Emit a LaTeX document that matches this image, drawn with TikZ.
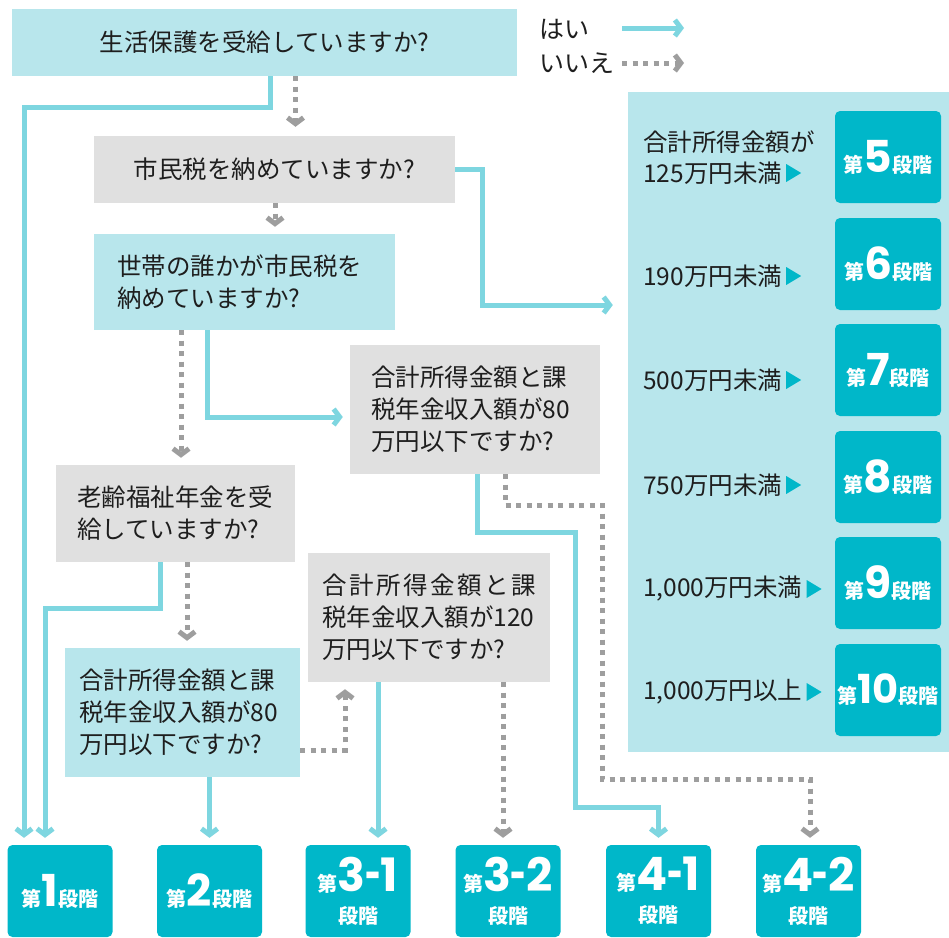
\documentclass[tikz,border=0pt]{standalone}
\usepackage{fontspec}
\setmainfont{Noto Sans CJK JP}
\newfontfamily\numfont{Poppins}
\usetikzlibrary{arrows.meta}
\definecolor{boxcyan}{HTML}{B8E6EC}
\definecolor{boxgray}{HTML}{E0E0E0}
\definecolor{stageteal}{HTML}{00B7C9}
\definecolor{linecyan}{HTML}{7ED6E0}
\definecolor{linegray}{HTML}{9E9E9E}
\definecolor{txtcol}{HTML}{1E1E1E}
\newcommand\qfont{\fontsize{24.5}{32}\selectfont}
\newcommand\hy{\kern-0.5pt\scalebox{0.6}[1]{-}\kern-0.5pt}
\newcommand\stagetxt[2][44]{{\fontsize{20}{20}\selectfont 第}{\numfont\bfseries\fontsize{#1}{#1}\selectfont #2}{\fontsize{20}{20}\selectfont 段階}}
\newcommand\stagetwo[2]{{\fontsize{20}{20}\selectfont 第}{\numfont\bfseries\fontsize{46}{46}\selectfont #1\hy #2}\\[2pt]{\fontsize{20}{30}\selectfont 段階}}
\begin{document}
\begin{tikzpicture}[x=1pt,y=-1pt,
  cbox/.style={fill=boxcyan,text=txtcol,font=\qfont,inner ysep=0pt},
  gbox/.style={fill=boxgray,text=txtcol,font=\qfont,inner ysep=0pt},
  lbl/.style={anchor=west,align=left,inner sep=0pt,text=txtcol,font=\qfont},
  stage/.style={fill=stageteal,rounded corners=5pt,minimum width=105pt,minimum height=92pt,
    text=white,align=center,inner sep=0pt,font=\bfseries\fontsize{20}{30}\selectfont},
  yesline/.style={draw=linecyan,line width=5pt,-{Straight Barb[length=6pt,width=16pt]}},
  noline/.style={draw=linegray,line width=5pt,dash pattern=on 5pt off 5.5pt,
    -{Straight Barb[length=6pt,width=16pt]}},
  tri/.style={fill=stageteal}]
\useasboundingbox (0,0) rectangle (949,937);
\fill[white] (0,0) rectangle (949,937);

% question boxes
\node[cbox,minimum width=505pt,minimum height=67pt,inner xsep=0pt] (A) at (264.5,42.5) {生活保護を受給していますか?};
\node[gbox,minimum width=361pt,minimum height=67pt,inner xsep=0pt] (B) at (274.5,169.5) {市民税を納めていますか?};
\node[cbox,minimum width=301pt,minimum height=96pt,inner xsep=23pt,text width=255pt,align=left] (C) at (244.5,282) {世帯の誰かが市民税を\\納めていますか?};
\node[gbox,minimum width=250pt,minimum height=129pt,inner xsep=21pt,text width=208pt,align=left] (D) at (475,409.5) {合計所得金額と課\\税年金収入額が80\\万円以下ですか?};
\node[gbox,minimum width=239pt,minimum height=97pt,inner xsep=21pt,text width=197pt,align=left] (E) at (175.5,513.5) {老齢福祉年金を受\\給していますか?};
\node[gbox,minimum width=242pt,minimum height=129pt,inner xsep=14pt,text width=214pt,align=left] (F) at (429,617.5) {\makebox[214pt][s]{合\hfill 計\hfill 所\hfill 得\hfill 金\hfill 額\hfill と\hfill 課}\\税年金収入額が120\\万円以下ですか?};
\node[cbox,minimum width=235pt,minimum height=129pt,inner xsep=14pt,text width=207pt,align=left] (G) at (182.5,712.5) {合計所得金額と課\\税年金収入額が80\\万円以下ですか?};

% legend
\node[lbl,font=\fontsize{25}{32}\selectfont] (LY) at (539,29) {はい};
\node[lbl,font=\fontsize{25}{32}\selectfont] (LN) at (539,63) {いいえ};
\coordinate (ly0) at (622,28);
\coordinate (ly1) at (684,28);
\coordinate (ln0) at (622,63);
\coordinate (ln1) at (684,63);
\draw[yesline] (ly0) -- (ly1);
\draw[noline] (ln0) -- (ln1);

% right panel
\node[fill=boxcyan,minimum width=321pt,minimum height=660pt,inner sep=0pt] (P) at (788.5,422) {};
\node[lbl] (L5a) at (643,142) {合計所得金額が};
\node[lbl] (L5) at (643,173) {125万円未満};
\node[lbl] (L6) at (643,276) {190万円未満};
\node[lbl] (L7) at (643,380) {500万円未満};
\node[lbl] (L8) at (643,485) {750万円未満};
\node[lbl] (L9) at (643,589) {1,000万円未満};
\node[lbl] (L10) at (643,692) {1,000万円以上};
\foreach \r in {5,6,7,8,9,10}{
  \fill[tri] ([xshift=4pt,yshift=9pt]L\r.east) -- ++(15,9) -- ++(-15,9) -- cycle;
}
\node[stage,minimum width=106pt] (S5) at (888,157) {\stagetxt{5}};
\node[stage,minimum width=106pt] (S6) at (888,264) {\stagetxt{6}};
\node[stage,minimum width=106pt] (S7) at (888,370) {\stagetxt{7}};
\node[stage,minimum width=106pt] (S8) at (888,477) {\stagetxt{8}};
\node[stage,minimum width=106pt] (S9) at (888,583) {\stagetxt{9}};
\node[stage,minimum width=106pt] (S10) at (888,690) {\stagetxt[40]{1\kern-1pt 0}};

% bottom stages
\node[stage] (S1) at (60,891) {\stagetxt{1}};
\node[stage] (S2) at (209.5,891) {\stagetxt{2}};
\node[stage] (S31) at (358,891) {\stagetwo{3}{1}};
\node[stage] (S32) at (508,891) {\stagetwo{3}{2}};
\node[stage] (S41) at (658.5,891) {\stagetwo{4}{1}};
\node[stage] (S42) at (808.5,891) {\stagetwo{4}{2}};

% connectors
\draw[yesline] ([xshift=5.5pt]A.south) -- ++(0,31) -| ([xshift=-36pt,yshift=7pt]S1.north);
\draw[noline] ([xshift=31pt]A.south) -- ([xshift=21pt,yshift=9pt]B.north);
\draw[yesline] (B.east) -- ++(27.5,0) |- ([xshift=-15pt,yshift=117pt]P.west);
\draw[noline] ([xshift=0.5pt]B.south) -- ([xshift=30.5pt,yshift=7pt]C.north);
\draw[yesline] ([xshift=-37.5pt]C.south) |- ([xshift=-7pt,yshift=-7.5pt]D.west);
\draw[noline] ([xshift=-63.5pt]C.south) -- ([xshift=5.5pt,yshift=7pt]E.north);
\draw[yesline] ([xshift=-15.5pt]E.south) -- ++(0,46) -| ([xshift=-15pt,yshift=7pt]S1.north);
\draw[noline] ([xshift=11.5pt]E.south) -- ([xshift=4.5pt,yshift=7pt]G.north);
\draw[yesline] (S2.north |- G.south) -- ([yshift=7pt]S2.north);
\draw[noline] ([yshift=-37.5pt]G.east) -| ([xshift=-84pt,yshift=-7pt]F.south);
\draw[yesline] ([xshift=-51pt]F.south) -- ([xshift=20pt,yshift=7pt]S31.north);
\draw[noline] ([xshift=74pt]F.south) -- ([xshift=-5pt,yshift=7pt]S32.north);
\draw[yesline] ([xshift=2pt]D.south) -- ++(0,58) -- ++(98,0) -- ++(0,275) -| ([yshift=7pt]S41.north);
\draw[noline] ([xshift=30pt]D.south) -- ++(0,31) -- ++(97,0) -- ++(0,274) -| ([xshift=1.5pt,yshift=7pt]S42.north);
\end{tikzpicture}
\end{document}
